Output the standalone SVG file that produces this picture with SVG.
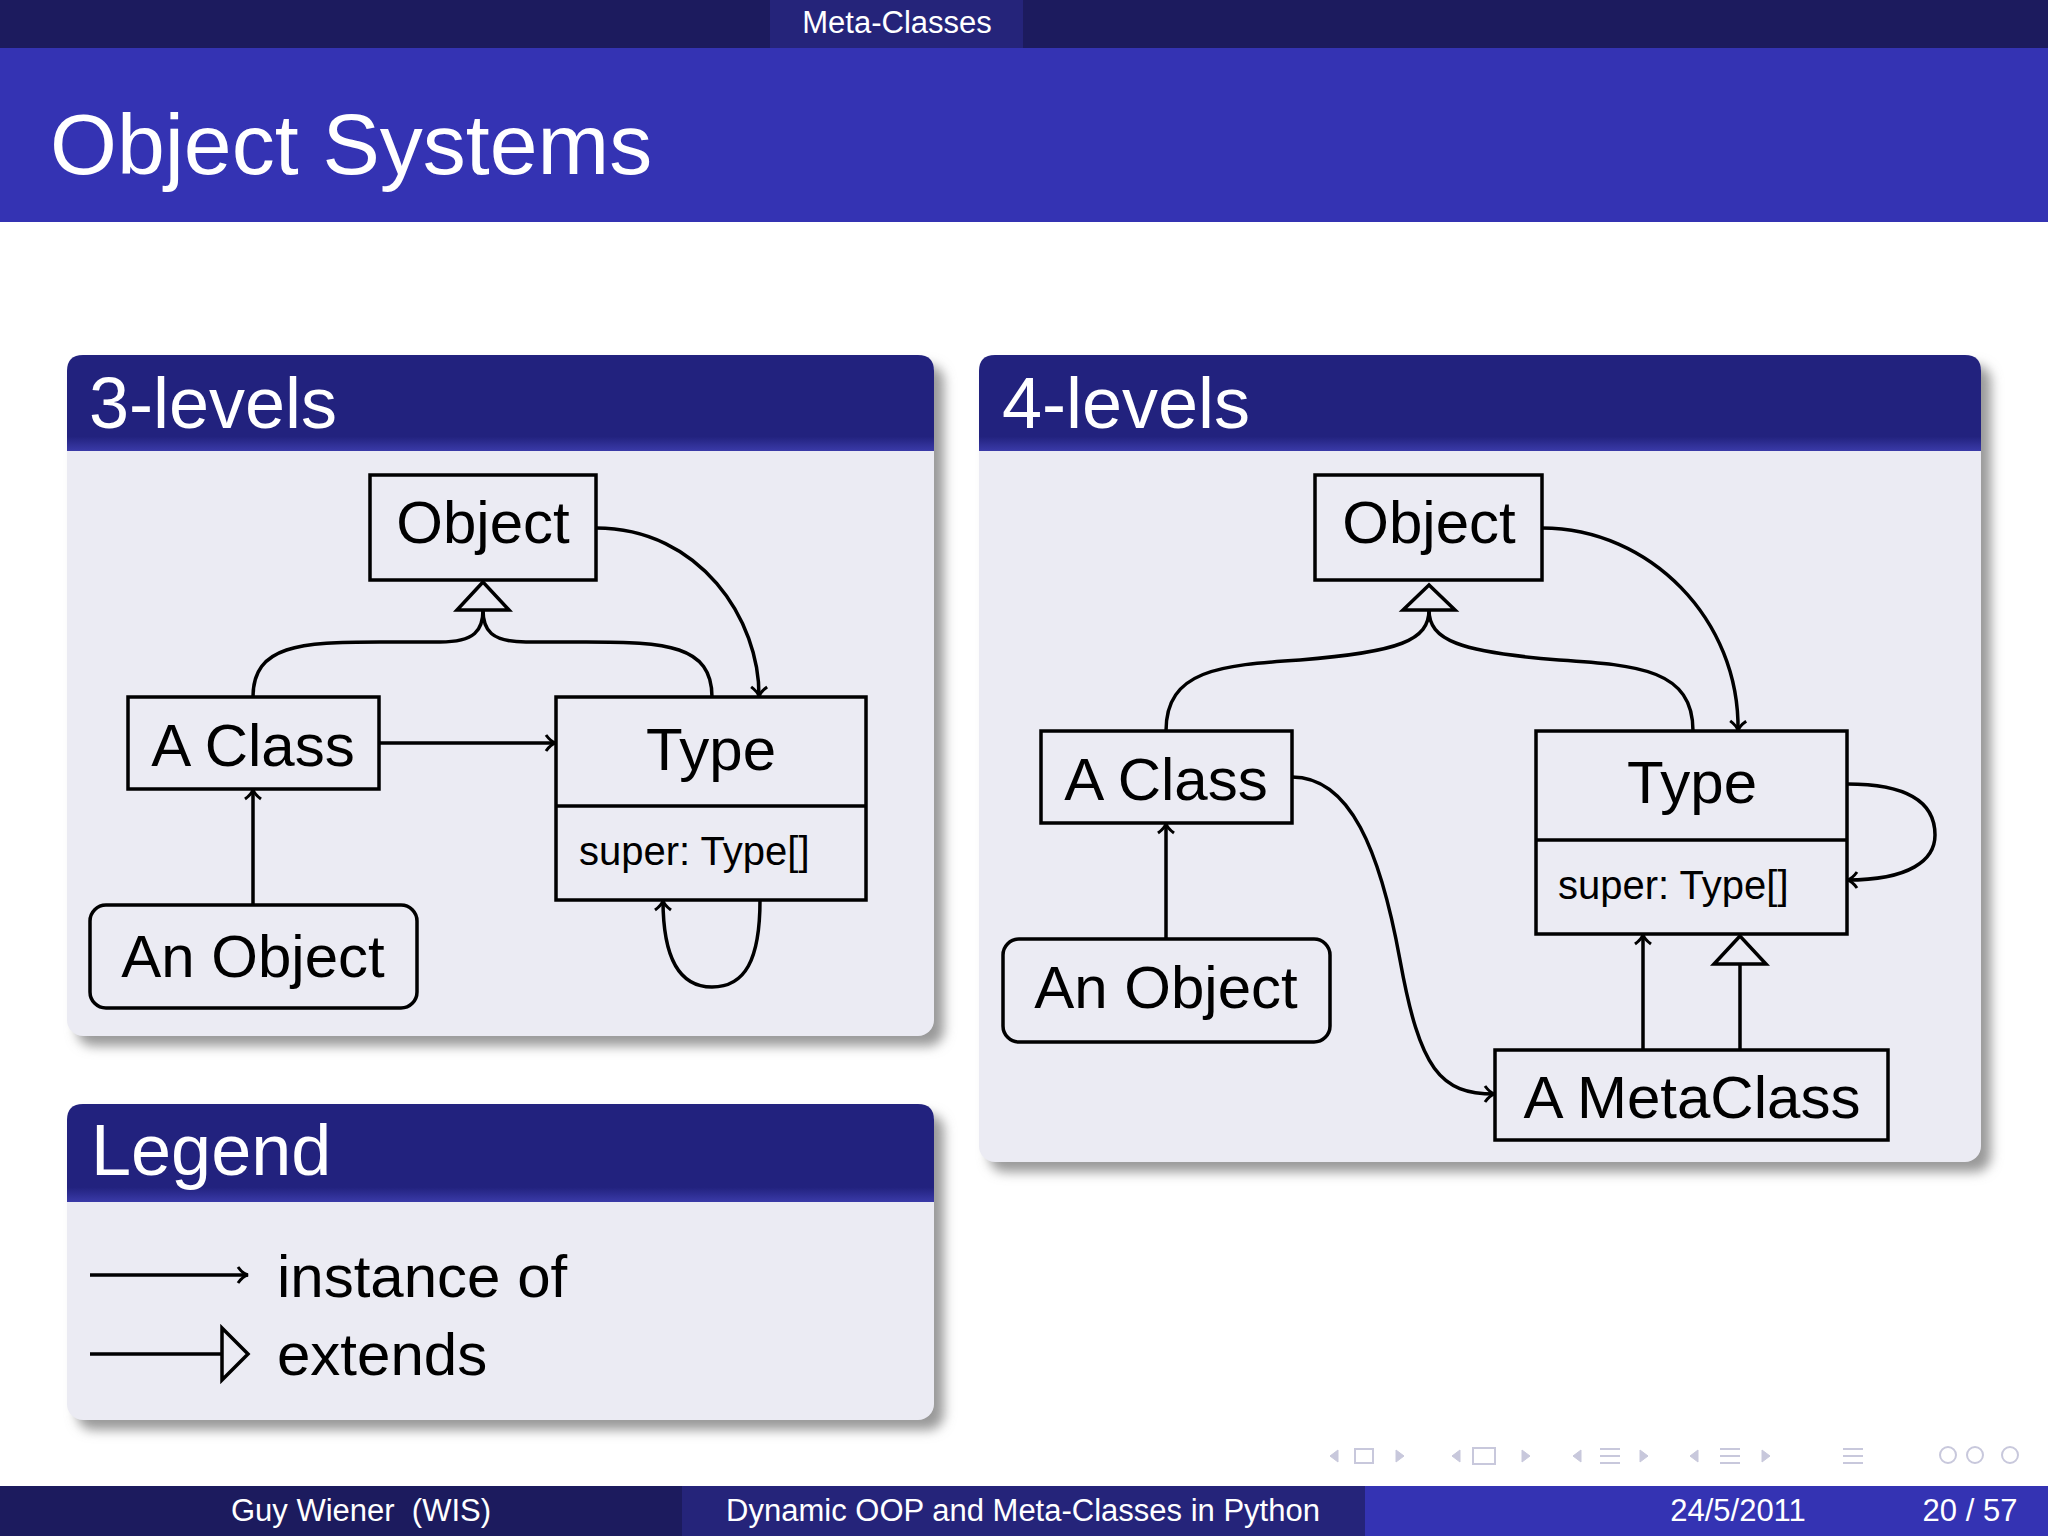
<svg xmlns="http://www.w3.org/2000/svg" width="2048" height="1536" viewBox="0 0 2048 1536">
<style>
text{font-family:"Liberation Sans","DejaVu Sans",sans-serif}
.hd{fill:#fff;font-size:72px}
.nd{fill:none;stroke:#000;stroke-width:3.5}
.nt{font-size:60px;fill:#000;text-anchor:middle}
.sm{font-size:40px;fill:#000}
.c{fill:none;stroke:#000;stroke-width:3.5}
.ft{fill:#fff;font-size:31px;text-anchor:middle}
.tri{fill:#ebebf3;stroke:#000;stroke-width:3.5}
</style>
<defs>
<marker id="a" markerWidth="16" markerHeight="20" refX="13" refY="10" orient="auto" markerUnits="userSpaceOnUse">
<path d="M3,2 Q8,9 13,10 Q8,11 3,18" fill="none" stroke="#000" stroke-width="3"/>
</marker>
<filter id="sh" x="-5%" y="-5%" width="115%" height="120%"><feGaussianBlur stdDeviation="6"/></filter>
<linearGradient id="hg" x1="0" y1="0" x2="0" y2="1"><stop offset="0.85" stop-color="#22227e"/><stop offset="1" stop-color="#3a3aa8"/></linearGradient>
</defs>
<rect width="2048" height="1536" fill="#fff"/>
<rect width="2048" height="48" fill="#1c1b5e"/>
<rect x="770" width="253" height="48" fill="#25247a"/>
<text x="897" y="33" fill="#fff" font-size="31" text-anchor="middle">Meta-Classes</text>
<rect y="48" width="2048" height="174" fill="#3433b3"/>
<text x="50" y="174" fill="#fff" font-size="86">Object Systems</text>

<g id="block3">
<rect x="77" y="365" width="867" height="681" rx="16" fill="#999" filter="url(#sh)"/>
<rect x="67" y="355" width="867" height="681" rx="16" fill="#ebebf3"/>
<path d="M67,451 V371 Q67,355 83,355 H918 Q934,355 934,371 V451 Z" fill="url(#hg)"/>
<text x="89" y="428" class="hd">3-levels</text>
</g>
<g id="legend">
<rect x="77" y="1114" width="867" height="316" rx="16" fill="#999" filter="url(#sh)"/>
<rect x="67" y="1104" width="867" height="316" rx="16" fill="#ebebf3"/>
<path d="M67,1202 V1120 Q67,1104 83,1104 H918 Q934,1104 934,1120 V1202 Z" fill="url(#hg)"/>
<text x="91" y="1175" class="hd">Legend</text>
<line x1="90" y1="1275" x2="248" y2="1275" class="c" marker-end="url(#a)"/>
<text x="277" y="1297" font-size="60">instance of</text>
<line x1="90" y1="1354" x2="222" y2="1354" class="c"/>
<path d="M222,1328 L248,1354 L222,1380 Z" class="tri"/>
<text x="277" y="1375" font-size="60">extends</text>
</g>
<g id="block4">
<rect x="989" y="365" width="1002" height="807" rx="16" fill="#999" filter="url(#sh)"/>
<rect x="979" y="355" width="1002" height="807" rx="16" fill="#ebebf3"/>
<path d="M979,451 V371 Q979,355 995,355 H1965 Q1981,355 1981,371 V451 Z" fill="url(#hg)"/>
<text x="1002" y="428" class="hd">4-levels</text>
</g>

<g id="connectors">
<path d="M596,528 C700,528 760,620 759,697" class="c" marker-end="url(#a)"/>
<path d="M253,697 C253,645 300,642 380,642 L440,642 C475,642 483,630 483,610" class="c"/>
<path d="M712,697 C712,645 666,642 586,642 L526,642 C491,642 483,630 483,610" class="c"/>
<line x1="379" y1="743" x2="556" y2="743" class="c" marker-end="url(#a)"/>
<line x1="253" y1="905" x2="253" y2="789" class="c" marker-end="url(#a)"/>
<path d="M760,900 C760,960 745,987 712,987 C680,987 663,960 663,900" class="c" marker-end="url(#a)"/>

<path d="M1542,528 C1650,528 1740,620 1738,731" class="c" marker-end="url(#a)"/>
<path d="M1166,731 C1166,670 1220,665 1300,660 C1400,652 1429,640 1429,610" class="c"/>
<path d="M1693,731 C1693,670 1639,665 1559,660 C1459,652 1429,640 1429,610" class="c"/>
<line x1="1166" y1="939" x2="1166" y2="823" class="c" marker-end="url(#a)"/>
<path d="M1292,777 C1350,777 1380,850 1400,960 C1420,1070 1440,1094 1495,1094" class="c" marker-end="url(#a)"/>
<line x1="1643" y1="1050" x2="1643" y2="934" class="c" marker-end="url(#a)"/>
<line x1="1740" y1="1050" x2="1740" y2="964" class="c"/>
<path d="M1847,784 C1920,784 1935,810 1935,835 C1935,860 1910,880 1847,880" class="c" marker-end="url(#a)"/>
<path d="M483,582 L457,610 L509,610 Z" class="tri"/>
<path d="M1429,585 L1403,610 L1455,610 Z" class="tri"/>
<path d="M1740,936 L1714,964 L1766,964 Z" class="tri"/>
</g>

<g id="n3-object"><rect x="370" y="475" width="226" height="105" class="nd"/><text x="483" y="543" class="nt">Object</text></g>
<g id="n3-type"><rect x="556" y="697" width="310" height="203" class="nd"/><line x1="556" y1="806" x2="866" y2="806" class="c"/><text x="711" y="770" class="nt">Type</text><text x="579" y="865" class="sm">super:  Type[]</text></g>
<g id="n3-aclass"><rect x="128" y="697" width="251" height="92" class="nd"/><text x="253" y="766" class="nt">A Class</text></g>
<g id="n3-anobject"><rect x="90" y="905" width="327" height="103" rx="16" class="nd"/><text x="253" y="977" class="nt">An Object</text></g>

<g id="n4-object"><rect x="1315" y="475" width="227" height="105" class="nd"/><text x="1429" y="543" class="nt">Object</text></g>
<g id="n4-type"><rect x="1536" y="731" width="311" height="203" class="nd"/><line x1="1536" y1="840" x2="1847" y2="840" class="c"/><text x="1692" y="803" class="nt">Type</text><text x="1558" y="899" class="sm">super:  Type[]</text></g>
<g id="n4-aclass"><rect x="1041" y="731" width="251" height="92" class="nd"/><text x="1166" y="800" class="nt">A Class</text></g>
<g id="n4-anobject"><rect x="1003" y="939" width="327" height="103" rx="16" class="nd"/><text x="1166" y="1008" class="nt">An Object</text></g>
<g id="n4-metaclass"><rect x="1495" y="1050" width="393" height="90" class="nd"/><text x="1692" y="1118" class="nt">A MetaClass</text></g>

<g id="nav" fill="#c8c8dc" stroke="#c8c8dc">
<path d="M1330,1456 l8,-6 v12 z M1404,1456 l-8,-6 v12 z"/><rect x="1355" y="1449" width="18" height="14" fill="none" stroke-width="2"/>
<path d="M1452,1456 l8,-6 v12 z M1530,1456 l-8,-6 v12 z"/><rect x="1473" y="1448" width="22" height="16" fill="none" stroke-width="2"/>
<path d="M1573,1456 l8,-6 v12 z M1648,1456 l-8,-6 v12 z"/><path d="M1600,1449 h20 M1600,1456 h20 M1600,1463 h20" stroke-width="2"/>
<path d="M1690,1456 l8,-6 v12 z M1770,1456 l-8,-6 v12 z"/><path d="M1720,1449 h20 M1720,1456 h20 M1720,1463 h20" stroke-width="2"/>
<path d="M1843,1449 h20 M1843,1456 h20 M1843,1463 h20" stroke-width="2"/>
<circle cx="1948" cy="1455" r="8" fill="none" stroke-width="2"/><circle cx="1975" cy="1455" r="8" fill="none" stroke-width="2"/><circle cx="2010" cy="1455" r="8" fill="none" stroke-width="2"/>
</g>

<rect y="1486" width="682" height="50" fill="#1c1b5e"/>
<rect x="682" y="1486" width="683" height="50" fill="#25247a"/>
<rect x="1365" y="1486" width="683" height="50" fill="#3433b3"/>
<text x="361" y="1521" class="ft" xml:space="preserve">Guy Wiener  (WIS)</text>
<text x="1023" y="1521" class="ft">Dynamic OOP and Meta-Classes in Python</text>
<text x="1738" y="1521" class="ft">24/5/2011</text>
<text x="1970" y="1521" class="ft">20 / 57</text>
</svg>
